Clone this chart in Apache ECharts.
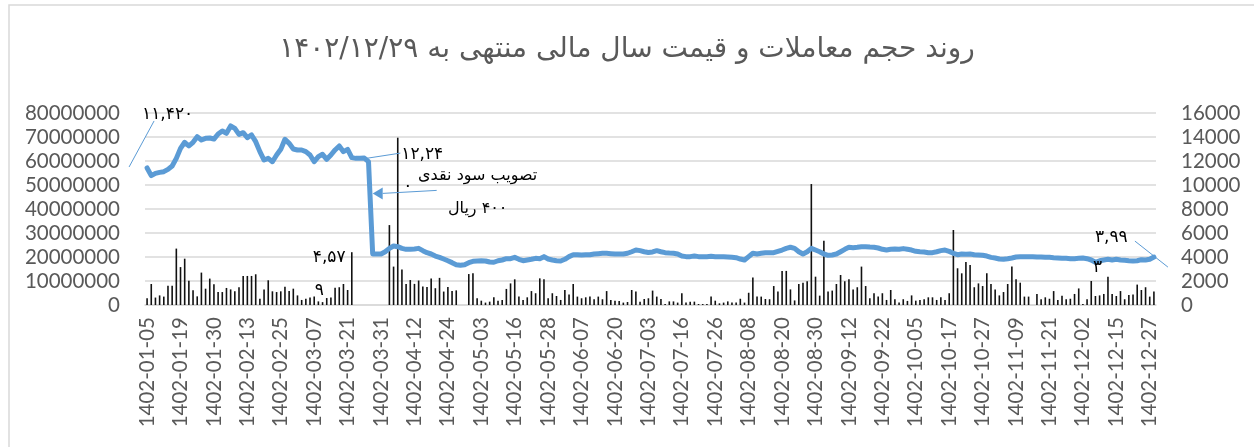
<!DOCTYPE html>
<html>
<head>
<meta charset="utf-8">
<script src="https://cdn.jsdelivr.net/npm/echarts@6/dist/echarts.min.js"></script>
<style>
html,body{margin:0;padding:0;background:#fff;}
#c{width:1254px;height:447px;}
</style>
</head>
<body>
<div id="c"></div>
<script>
const titleText = '\u200Fروند حجم معاملات و قیمت سال مالی منتهی به ۱۴۰۲/۱۲/۲۹';

const dates = [
'1402-01-05','1402-01-06','1402-01-07','1402-01-08','1402-01-09','1402-01-14','1402-01-15','1402-01-16',
'1402-01-19','1402-01-20','1402-01-21','1402-01-22','1402-01-26','1402-01-27','1402-01-28','1402-01-29',
'1402-01-30','1402-02-04','1402-02-05','1402-02-06','1402-02-09','1402-02-10','1402-02-11','1402-02-12',
'1402-02-13','1402-02-16','1402-02-17','1402-02-18','1402-02-19','1402-02-20','1402-02-23','1402-02-24',
'1402-02-25','1402-02-27','1402-02-30','1402-02-31','1402-03-01','1402-03-02','1402-03-03','1402-03-06',
'1402-03-07','1402-03-08','1402-03-09','1402-03-10','1402-03-13','1402-03-16','1402-03-17','1402-03-20',
'1402-03-21','1402-03-22','1402-03-23','1402-03-24','1402-03-27','1402-03-28','1402-03-29','1402-03-30',
'1402-03-31','1402-04-03','1402-04-04','1402-04-05','1402-04-06','1402-04-07','1402-04-10','1402-04-11',
'1402-04-12','1402-04-13','1402-04-14','1402-04-17','1402-04-18','1402-04-19','1402-04-20','1402-04-21',
'1402-04-24','1402-04-25','1402-04-26','1402-04-27','1402-04-28','1402-04-31','1402-05-01','1402-05-02',
'1402-05-03','1402-05-04','1402-05-07','1402-05-08','1402-05-09','1402-05-10','1402-05-14','1402-05-15',
'1402-05-16','1402-05-17','1402-05-18','1402-05-21','1402-05-22','1402-05-23','1402-05-24','1402-05-25',
'1402-05-28','1402-05-29','1402-05-30','1402-05-31','1402-06-01','1402-06-04','1402-06-05','1402-06-06',
'1402-06-07','1402-06-08','1402-06-11','1402-06-12','1402-06-13','1402-06-14','1402-06-18','1402-06-19',
'1402-06-20','1402-06-21','1402-06-22','1402-06-26','1402-06-27','1402-06-28','1402-06-29','1402-07-02',
'1402-07-03','1402-07-04','1402-07-05','1402-07-08','1402-07-09','1402-07-10','1402-07-12','1402-07-15',
'1402-07-16','1402-07-17','1402-07-18','1402-07-19','1402-07-22','1402-07-23','1402-07-24','1402-07-25',
'1402-07-26','1402-07-29','1402-07-30','1402-08-01','1402-08-02','1402-08-03','1402-08-06','1402-08-07',
'1402-08-08','1402-08-09','1402-08-10','1402-08-13','1402-08-14','1402-08-15','1402-08-16','1402-08-17',
'1402-08-20','1402-08-21','1402-08-22','1402-08-23','1402-08-24','1402-08-27','1402-08-28','1402-08-29',
'1402-08-30','1402-09-01','1402-09-04','1402-09-05','1402-09-06','1402-09-07','1402-09-08','1402-09-11',
'1402-09-12','1402-09-13','1402-09-14','1402-09-15','1402-09-18','1402-09-19','1402-09-20','1402-09-21',
'1402-09-22','1402-09-25','1402-09-27','1402-09-28','1402-09-29','1402-10-02','1402-10-03','1402-10-04',
'1402-10-05','1402-10-06','1402-10-09','1402-10-10','1402-10-11','1402-10-12','1402-10-13','1402-10-16',
'1402-10-17','1402-10-18','1402-10-19','1402-10-20','1402-10-23','1402-10-24','1402-10-25','1402-10-26',
'1402-10-27','1402-10-30','1402-11-01','1402-11-02','1402-11-03','1402-11-04','1402-11-07','1402-11-08',
'1402-11-09','1402-11-10','1402-11-11','1402-11-14','1402-11-15','1402-11-16','1402-11-17','1402-11-18',
'1402-11-21','1402-11-23','1402-11-24','1402-11-25','1402-11-28','1402-11-29','1402-11-30','1402-12-01',
'1402-12-02','1402-12-05','1402-12-07','1402-12-08','1402-12-09','1402-12-12','1402-12-13','1402-12-14',
'1402-12-15','1402-12-16','1402-12-19','1402-12-20','1402-12-21','1402-12-22','1402-12-23','1402-12-26',
'1402-12-27','1402-12-28'
];

const volume = [
2800000,8750000,3100000,4000000,3500000,8000000,8000000,23500000,15800000,19300000,
10100000,6100000,3600000,13500000,6800000,11000000,8600000,5400000,5400000,7100000,
6500000,5700000,7400000,12100000,12100000,12100000,12800000,2600000,6500000,10300000,
5700000,5400000,5700000,7600000,5800000,6800000,4000000,2100000,2600000,3100000,
3500000,1500000,1200000,2900000,3100000,7200000,7400000,8750000,6250000,22000000,
0,0,0,0,0,0,0,0,33300000,16000000,
69700000,14800000,8800000,10400000,8800000,10200000,7700000,7500000,11000000,7000000,
11300000,5600000,7500000,5800000,6100000,0,0,12900000,13200000,2800000,
1800000,1000000,1400000,3200000,1800000,2100000,6700000,9000000,10700000,3500000,
2100000,3200000,5800000,4900000,11100000,10700000,2800000,4900000,3750000,2100000,
6250000,4400000,8750000,3500000,2800000,3200000,3500000,2400000,3500000,2400000,
5800000,2100000,1800000,1700000,1000000,1250000,6250000,5600000,1400000,2500000,
2800000,6000000,3500000,2500000,400000,1500000,1500000,1000000,4900000,1000000,
1400000,1400000,400000,400000,400000,3500000,1800000,700000,1000000,1500000,
1000000,1000000,2600000,1000000,5100000,11500000,3500000,3500000,2500000,2400000,
7900000,5600000,14200000,14200000,6500000,1900000,8750000,9300000,9900000,50400000,
11800000,3900000,26800000,5600000,6000000,8750000,12500000,9900000,10700000,6500000,
7400000,16000000,7900000,2800000,4900000,3500000,4900000,2100000,6250000,2400000,
1000000,2400000,1700000,4000000,1800000,2100000,2400000,3200000,3200000,2100000,
3200000,2100000,4900000,31250000,15300000,13200000,17900000,16700000,7400000,9000000,
7900000,13200000,8750000,6500000,4000000,5400000,8750000,16000000,10700000,9300000,
3500000,3500000,0,4600000,2400000,3200000,2600000,5800000,2100000,3900000,
2400000,2600000,4600000,6900000,400000,2400000,10000000,3750000,4000000,4600000,
11800000,4600000,3750000,5800000,2400000,4200000,4400000,8500000,6250000,7400000,
3500000,5600000
];

const price = [
11420,10780,10970,11050,11110,11300,11580,12220,13050,13560,
13250,13560,14030,13750,13890,13920,13830,14250,14500,14310,
14920,14720,14220,14360,13940,14170,13610,12780,12080,12220,
11940,12500,12970,13810,13470,13000,12920,12920,12780,12500,
11940,12360,12560,12140,12500,12920,13250,12780,12970,12280,
12220,12220,12240,11940,4250,4250,4250,4440,4720,4920,
4860,4720,4640,4640,4670,4720,4530,4360,4250,4080,
3970,3830,3690,3530,3360,3310,3360,3530,3640,3670,
3690,3670,3580,3560,3690,3750,3860,3860,3970,3810,
3690,3750,3810,3890,3860,4030,3830,3750,3690,3670,
3810,4030,4190,4190,4170,4190,4190,4250,4280,4310,
4310,4280,4250,4250,4250,4310,4440,4580,4530,4440,
4380,4420,4530,4440,4360,4330,4310,4250,4080,4030,
4030,4080,4030,4030,4030,4060,4030,4030,4030,4000,
3970,3940,3830,3750,4030,4310,4250,4310,4360,4360,
4360,4470,4580,4720,4810,4720,4440,4250,4440,4720,
4580,4440,4250,4140,4170,4250,4440,4640,4810,4780,
4810,4860,4860,4830,4810,4750,4640,4580,4640,4670,
4640,4700,4640,4580,4470,4440,4420,4360,4360,4440,
4530,4580,4470,4310,4190,4250,4220,4250,4190,4170,
4140,4080,3970,3920,3830,3810,3860,3920,4000,4030,
4030,4030,4030,4000,4000,3970,3970,3940,3920,3890,
3890,3860,3860,3890,3920,3860,3750,3560,3690,3750,
3810,3750,3810,3750,3720,3690,3670,3690,3780,3750,
3810,3993
];

const volumeTicks = [0, 80000000, 10000000];
const priceTicks = [0, 16000, 2000];

// annotation texts
const noteFirst = '۱۱,۴۲۰';
const notePreA = '۱۲,۲۴';
const notePreB = '۰';
const noteDivA = '\u200Fتصویب سود نقدی';
const noteDivB = '\u200F۴۰۰ ریال';
const noteVolA = '۴,۵۷';
const noteVolB = '۹';
const noteLastA = '۳,۹۹';
const noteLastB = '۳';

const LABEL = '#595959';
const GRID = '#d9d9d9';
const BLUE = '#5b9bd5';
const AXFONT = 'Lato, "Liberation Sans", Arial, sans-serif';
const FAFONT = '"DejaVu Sans", sans-serif';

const chart = echarts.init(document.getElementById('c'), null, {renderer: 'canvas'});
const option = {
  animation: false,
  backgroundColor: '#fff',
  title: {
    text: titleText,
    left: 'center',
    top: 31,
    textStyle: {fontFamily: FAFONT, fontSize: 28, fontWeight: 'normal', color: LABEL}
  },
  grid: {left: 145, right: 98, top: 113, bottom: 142, containLabel: false},
  xAxis: {
    type: 'category',
    data: dates,
    boundaryGap: true,
    axisTick: {show: false},
    axisLine: {show: true, lineStyle: {color: GRID, width: 1.5}},
    axisLabel: {
      interval: 7, rotate: 90, margin: 12,
      color: LABEL, fontSize: 20.5, fontFamily: AXFONT
    },
    splitLine: {show: false}
  },
  yAxis: [
    {
      type: 'value', min: volumeTicks[0], max: volumeTicks[1], interval: volumeTicks[2],
      position: 'left',
      axisLine: {show: false}, axisTick: {show: false},
      axisLabel: {color: LABEL, fontSize: 20.5, fontFamily: AXFONT, margin: 25,
        formatter: v => String(v)},
      splitLine: {show: true, lineStyle: {color: GRID, width: 1.5}}
    },
    {
      type: 'value', min: priceTicks[0], max: priceTicks[1], interval: priceTicks[2],
      position: 'right',
      axisLine: {show: false}, axisTick: {show: false},
      axisLabel: {color: LABEL, fontSize: 20.5, fontFamily: AXFONT, margin: 25,
        formatter: v => String(v)},
      splitLine: {show: false}
    }
  ],
  series: [
    {
      name: 'volume', type: 'bar', yAxisIndex: 0, data: volume,
      barWidth: 1.6, itemStyle: {color: '#111'}, z: 2
    },
    {
      name: 'price', type: 'line', yAxisIndex: 1, data: price,
      showSymbol: false, symbol: 'none',
      lineStyle: {color: BLUE, width: 5, join: 'round', cap: 'round'},
      z: 3
    }
  ]
};
chart.setOption(option);

const px = (i, v, yi) => chart.convertToPixel({xAxisIndex: 0, yAxisIndex: yi}, [i, v]);
const last = price.length - 1;
const pFirst = px(0, price[0], 1);
const pPre = px(52, price[52], 1);
const pDrop = px(54, 9300, 1);
const pVol = px(49, volume[49], 0);
const pLast = px(last, price[last], 1);

function txt(x, y, t, align, size) {
  return {type: 'text', x: x, y: y, z: 100, silent: true,
    style: {text: t, fill: '#000', fontSize: size || 16, fontFamily: FAFONT,
      align: align || 'left', verticalAlign: 'middle', textAlign: align || 'left', textVerticalAlign: 'middle'}};
}
function seg(x1, y1, x2, y2) {
  return {type: 'line', z: 100, silent: true, shape: {x1: x1, y1: y1, x2: x2, y2: y2},
    style: {stroke: BLUE, lineWidth: 1}};
}

const graphics = [
  {type: 'rect', z: -1, silent: true, shape: {x: 9, y: 5, width: 1400, height: 600},
    style: {fill: 'none', stroke: GRID, lineWidth: 1.5}},
  // first price callout
  seg(pFirst[0] - 18, pFirst[1] - 1, pFirst[0] + 7, pFirst[1] - 47),
  txt(pFirst[0] - 5, pFirst[1] - 53, noteFirst, 'left', 17),
  // pre-adjustment price callout
  seg(pPre[0] - 3, pPre[1] + 1, pPre[0] + 36, pPre[1] - 5),
  txt(pPre[0] + 37, pPre[1] - 4, notePreA, 'left', 17),
  txt(pPre[0] + 39, pPre[1] + 28, notePreB, 'left', 17),
  // dividend arrow callout
  {type: 'polygon', z: 100, silent: true,
    shape: {points: [[pDrop[0], pDrop[1]], [pDrop[0] + 10, pDrop[1] - 6], [pDrop[0] + 10, pDrop[1] + 6]]},
    style: {fill: BLUE}},
  seg(pDrop[0] + 10, pDrop[1], pDrop[0] + 64, pDrop[1] - 3),
  txt(pDrop[0] + 105, pDrop[1] - 18, noteDivA, 'center', 16),
  txt(pDrop[0] + 105, pDrop[1] + 15, noteDivB, 'center', 16),
  // volume label
  txt(pVol[0] - 39, pVol[1] + 5, noteVolA, 'left', 17),
  txt(pVol[0] - 37, pVol[1] + 38, noteVolB, 'left', 17),
  // last price callout
  seg(pLast[0] - 19, pLast[1] - 16, pLast[0] + 14, pLast[1] + 10),
  txt(pLast[0] - 59, pLast[1] - 20, noteLastA, 'left', 17),
  txt(pLast[0] - 61, pLast[1] + 10, noteLastB, 'left', 17)
];
chart.setOption({graphic: graphics});
</script>
</body>
</html>
